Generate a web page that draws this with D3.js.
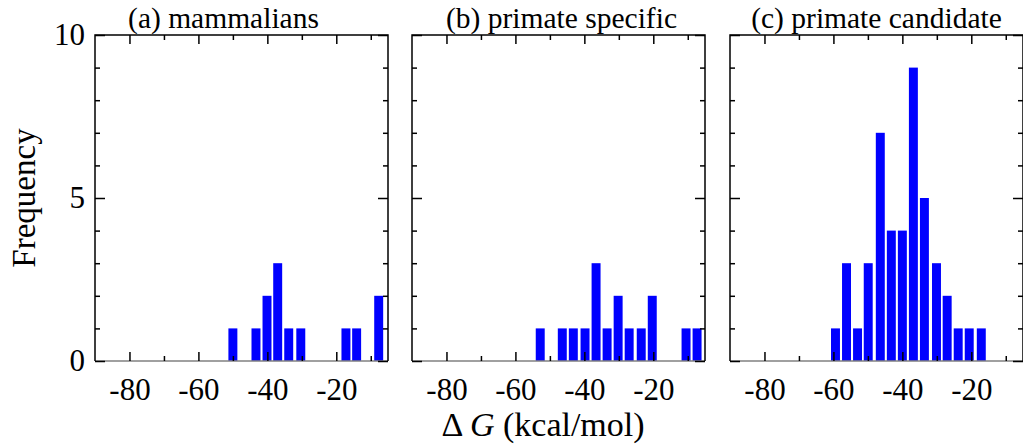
<!DOCTYPE html>
<html>
<head>
<meta charset="utf-8">
<script src="https://cdn.jsdelivr.net/npm/d3@7"></script>
<style>
  body { margin: 0; background: #fff; }
  text { font-family: "Liberation Serif", "Times New Roman", serif; fill: #000; }
</style>
</head>
<body>
<svg></svg>
<script>
// data (bin centres in kcal/mol, counts)
const panelTitles = ['(a) mammalians', '(b) primate specific', '(c) primate candidate'];

const binsA = [-50.0, -43.3, -40.1, -37.0, -33.8, -30.3, -17.2, -14.1, -7.7];
const countsA = [1, 1, 2, 3, 1, 1, 1, 1, 2];

const binsB = [-52.8, -46.4, -43.2, -39.8, -36.6, -33.4, -30.2, -27.0, -23.5, -20.3, -10.5, -7.3];
const countsB = [1, 1, 1, 1, 3, 1, 2, 1, 1, 2, 1, 1];

const binsC = [-59.4, -56.2, -53.0, -49.9, -46.4, -43.2, -40.0, -36.8, -33.6, -30.1, -27.0, -23.8, -20.6, -17.1];
const countsC = [1, 3, 1, 3, 7, 4, 4, 9, 5, 3, 2, 1, 1, 1];

const xMajorTicks = [-80, -60, -40, -20];
const xMinorTicks = [-70, -50, -30, -10];
const yMajorTicks = [0, 5, 10];
const yMinorTicks = [1, 2, 3, 4, 6, 7, 8, 9];

const xLabel = 'G (kcal/mol)';
const yLabel = 'Frequency';

const w = 1023, h = 445;
const svg = d3.select('svg').attr('width', w).attr('height', h);

const panels = [
  {bins: binsA, counts: countsA},
  {bins: binsB, counts: countsB},
  {bins: binsC, counts: countsC}
];
const panelLeft = [95, 412, 730];
const titleShift = [-18, 3, 0];
const pw = 293;
const yTop = 35, yBottom = 361;

const x = d3.scaleLinear().domain([-90, -5]).range([0, pw]);
const y = d3.scaleLinear().domain([0, 10]).range([yBottom, yTop]);
const halfBar = 1.3;
const plain = d => String(d); // keep the ascii hyphen

panels.forEach((p, i) => {
  const g = svg.append('g').attr('transform', `translate(${panelLeft[i]},0)`);

  // bars
  g.selectAll('rect.bar').data(p.bins)
    .enter().append('rect')
    .attr('class', 'bar')
    .attr('x', d => x(d - halfBar))
    .attr('width', d => x(d + halfBar) - x(d - halfBar))
    .attr('y', (d, j) => y(p.counts[j]))
    .attr('height', (d, j) => y(0) - y(p.counts[j]))
    .attr('fill', '#0000ff');

  // frame
  g.append('line').attr('x1', 0).attr('x2', pw).attr('y1', yBottom).attr('y2', yBottom)
    .attr('stroke', '#808080').attr('stroke-width', 1.5);
  g.append('path')
    .attr('d', `M0,${yBottom}V${yTop}H${pw}V${yBottom}`)
    .attr('fill', 'none').attr('stroke', '#000').attr('stroke-width', 1.5);

  // x ticks (inward, bottom + top)
  const xb = g.append('g').attr('transform', `translate(0,${yBottom})`)
    .call(d3.axisBottom(x).tickValues(xMajorTicks).tickSizeInner(-9).tickSizeOuter(0)
      .tickPadding(17).tickFormat(plain));
  xb.append('g').call(d3.axisBottom(x).tickValues(xMinorTicks).tickSizeInner(-5).tickSizeOuter(0).tickFormat(''));
  g.append('g').attr('transform', `translate(0,${yTop})`)
    .call(d3.axisTop(x).tickValues(xMajorTicks).tickSizeInner(-9).tickSizeOuter(0).tickFormat(''))
    .append('g').call(d3.axisTop(x).tickValues(xMinorTicks).tickSizeInner(-5).tickSizeOuter(0).tickFormat(''));

  // y ticks (inward, left + right)
  const yl = g.append('g')
    .call(d3.axisLeft(y).tickValues(yMajorTicks).tickSizeInner(-10).tickSizeOuter(0)
      .tickPadding(10).tickFormat(i === 0 ? plain : ''));
  yl.append('g').call(d3.axisLeft(y).tickValues(yMinorTicks).tickSizeInner(-5).tickSizeOuter(0).tickFormat(''));
  g.append('g').attr('transform', `translate(${pw},0)`)
    .call(d3.axisRight(y).tickValues(yMajorTicks).tickSizeInner(-10).tickSizeOuter(0).tickFormat(''))
    .append('g').call(d3.axisRight(y).tickValues(yMinorTicks).tickSizeInner(-5).tickSizeOuter(0).tickFormat(''));

  g.selectAll('.domain').remove();
  g.selectAll('.tick line').attr('stroke', '#000').attr('stroke-width', 1.5);
  g.selectAll('.tick text')
    .attr('font-family', '"Liberation Serif", serif')
    .attr('font-size', 31);

  // title
  g.append('text')
    .attr('x', pw / 2 + titleShift[i])
    .attr('y', 28)
    .attr('text-anchor', 'middle')
    .attr('font-size', 29.5)
    .text(panelTitles[i]);
});

// axis labels
const xl = svg.append('text')
  .attr('x', 543).attr('y', 436)
  .attr('text-anchor', 'middle')
  .attr('font-size', 34);
xl.append('tspan').text('\u0394 ');
xl.append('tspan').attr('font-style', 'italic').text('G');
xl.append('tspan').text(' ' + xLabel.slice(2));

svg.append('text')
  .attr('transform', 'translate(35,198) rotate(-90)')
  .attr('text-anchor', 'middle')
  .attr('font-size', 33)
  .text(yLabel);
</script>
</body>
</html>
